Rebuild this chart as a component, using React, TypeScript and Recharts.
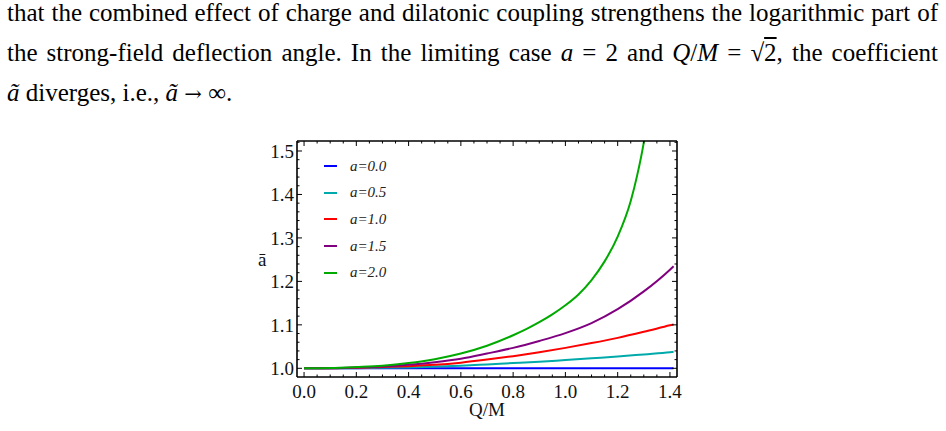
import { LineChart, Line, XAxis, YAxis, Legend } from "recharts";

// Q/M sample points for the a = 0 ... 1.5 curves
const qm = [0, 0.1, 0.2, 0.3, 0.4, 0.5, 0.6, 0.7, 0.8, 0.9, 1.0, 1.1, 1.2, 1.3, 1.4, 1.414];
const abarA00 = [1, 1, 1, 1, 1, 1, 1, 1, 1, 1, 1, 1, 1, 1, 1, 1];
const abarA05 = [1, 1.0001, 1.0004, 1.001, 1.002, 1.004, 1.006, 1.009, 1.012, 1.015, 1.019, 1.023, 1.027, 1.032, 1.037, 1.038];
const abarA10 = [1, 1.0003, 1.001, 1.003, 1.005, 1.008, 1.013, 1.02, 1.028, 1.037, 1.047, 1.058, 1.07, 1.084, 1.099, 1.101];
const abarA15 = [1, 1.0004, 1.0018, 1.004, 1.008, 1.014, 1.022, 1.034, 1.047, 1.063, 1.081, 1.104, 1.136, 1.177, 1.227, 1.235];
// a = 2 blows up towards Q/M = sqrt(2), so it is sampled more densely near the end
const qmA20 = [0, 0.1, 0.2, 0.3, 0.4, 0.5, 0.6, 0.7, 0.8, 0.85, 0.9, 0.95, 1.0, 1.05, 1.1, 1.15, 1.2, 1.25, 1.275, 1.3, 1.32];
const abarA20 = [1, 1.0007, 1.003, 1.006, 1.012, 1.021, 1.034, 1.052, 1.076, 1.09, 1.106, 1.124, 1.145, 1.17, 1.203, 1.246, 1.303, 1.385, 1.445, 1.52, 1.6];

const seriesNames = ["a=0.0", "a=0.5", "a=1.0", "a=1.5", "a=2.0"];
const seriesColors = ["#0000ff", "#00aaaa", "#ff0000", "#800080", "#00aa00"];

const xTicks = [
  0, 0.05, 0.1, 0.15, 0.2, 0.25, 0.3, 0.35, 0.4, 0.45, 0.5, 0.55, 0.6, 0.65, 0.7,
  0.75, 0.8, 0.85, 0.9, 0.95, 1.0, 1.05, 1.1, 1.15, 1.2, 1.25, 1.3, 1.35, 1.4,
];
const yTicks = [
  1.0, 1.02, 1.04, 1.06, 1.08, 1.1, 1.12, 1.14, 1.16, 1.18, 1.2, 1.22, 1.24, 1.26,
  1.28, 1.3, 1.32, 1.34, 1.36, 1.38, 1.4, 1.42, 1.44, 1.46, 1.48, 1.5, 1.52,
];

const toPoints = (qs: number[], vs: number[]) => qs.map((q, i) => ({ q, v: vs[i] }));
const series = [
  toPoints(qm, abarA00),
  toPoints(qm, abarA05),
  toPoints(qm, abarA10),
  toPoints(qm, abarA15),
  toPoints(qmA20, abarA20),
];

const serif = '"Liberation Serif", "Times New Roman", serif';
const onStep = (v: number, step: number) => Math.abs(v / step - Math.round(v / step)) < 1e-6;

// frame ticks point into the plot, Mathematica style
const BottomTick = ({ x, y, payload }: any) => {
  const major = onStep(payload.value, 0.2);
  return (
    <g>
      <line x1={x} y1={y} x2={x} y2={y - (major ? 5 : 2.5)} stroke="#000" />
      {major && (
        <text x={x} y={y + 21} textAnchor="middle" fontSize={19} fontFamily={serif} fill="#111">
          {payload.value.toFixed(1)}
        </text>
      )}
    </g>
  );
};
const TopTick = ({ x, y, payload }: any) => {
  const major = onStep(payload.value, 0.2);
  return <line x1={x} y1={y} x2={x} y2={y + (major ? 5 : 2.5)} stroke="#000" />;
};
const LeftTick = ({ x, y, payload }: any) => {
  const major = onStep(payload.value, 0.1);
  return (
    <g>
      <line x1={x} y1={y} x2={x + (major ? 5 : 2.5)} y2={y} stroke="#000" />
      {major && (
        <text x={x - 3} y={y + 6.7} textAnchor="end" fontSize={19} fontFamily={serif} fill="#111">
          {payload.value.toFixed(1)}
        </text>
      )}
    </g>
  );
};
const RightTick = ({ x, y, payload }: any) => {
  const major = onStep(payload.value, 0.1);
  return <line x1={x} y1={y} x2={x - (major ? 5 : 2.5)} y2={y} stroke="#000" />;
};

const LegendBox = ({ payload }: any) => (
  <div style={{ fontFamily: serif, fontStyle: "italic", fontSize: 15, color: "#222" }}>
    {(payload ?? []).map((p: any) => (
      <div key={p.value} style={{ height: 26.6, display: "flex", alignItems: "center" }}>
        <span style={{ display: "inline-block", width: 13, height: 2, background: p.color, marginRight: 13 }} />
        <span>{p.value}</span>
      </div>
    ))}
  </div>
);

const frame = { stroke: "#000", strokeWidth: 1.6 };
const xDomain: [number, number] = [-0.027, 1.427];
const yDomain: [number, number] = [0.98, 1.523];
const textLine = { height: 26, lineHeight: "26px", marginBottom: 14 };
const justify = { ...textLine, textAlign: "justify" as const, textAlignLast: "justify" as const };

export default function App() {
  return (
    <div style={{ position: "fixed", left: 0, top: 0, width: 946, height: 431, background: "#fff", overflow: "hidden" }}>
      <div style={{ position: "absolute", left: 7, top: 0, width: 931, fontFamily: serif, fontSize: 25, color: "#000" }}>
        <div style={justify}>
          that the combined effect of charge and dilatonic coupling strengthens the logarithmic part of
        </div>
        <div style={justify}>
          the strong-field deflection angle. In the limiting case <i>a</i>&nbsp;=&nbsp;2 and <i>Q</i>/<i>M</i>&nbsp;=&nbsp;√
          <span style={{ textDecoration: "overline" }}>2</span>, the coefficient
        </div>
        <div style={textLine}>
          <i>ã</i> diverges, i.e., <i>ã</i> <span style={{ fontFamily: '"DejaVu Serif", serif', fontSize: 21 }}>→</span> ∞.
        </div>
      </div>

      <div style={{ position: "absolute", left: 240, top: 130 }}>
        <LineChart width={460} height={300} margin={{ top: 10, right: 20, bottom: 52, left: 0 }}>
          <XAxis
            dataKey="q"
            type="number"
            domain={xDomain}
            allowDataOverflow
            ticks={xTicks}
            interval={0}
            height={1}
            tickSize={0}
            tickMargin={0}
            tickLine={false}
            axisLine={frame}
            tick={<BottomTick />}
            label={{ value: "Q/M", position: "bottom", offset: 25, fontSize: 19, fontFamily: serif, fill: "#111" }}
          />
          <XAxis
            xAxisId="top"
            orientation="top"
            dataKey="q"
            type="number"
            domain={xDomain}
            allowDataOverflow
            ticks={xTicks}
            interval={0}
            height={1}
            tickSize={0}
            tickMargin={0}
            tickLine={false}
            axisLine={frame}
            tick={<TopTick />}
          />
          <YAxis
            type="number"
            domain={yDomain}
            allowDataOverflow
            ticks={yTicks}
            interval={0}
            width={57}
            tickSize={0}
            tickMargin={0}
            tickLine={false}
            axisLine={frame}
            tick={<LeftTick />}
            label={{ value: "ā", position: "insideLeft", offset: 18, fontSize: 19, fontFamily: serif, fill: "#111" }}
          />
          <YAxis
            yAxisId="right"
            orientation="right"
            type="number"
            domain={yDomain}
            allowDataOverflow
            ticks={yTicks}
            interval={0}
            width={3}
            tickSize={0}
            tickMargin={0}
            tickLine={false}
            axisLine={frame}
            tick={<RightTick />}
          />
          <Legend
            layout="vertical"
            align="center"
            verticalAlign="middle"
            wrapperStyle={{ left: 84, top: 23, width: 120, height: "auto" }}
            content={<LegendBox />}
          />
          {series.map((pts, i) => (
            <Line
              key={seriesNames[i]}
              name={seriesNames[i]}
              data={pts}
              dataKey="v"
              type="monotone"
              stroke={seriesColors[i]}
              strokeWidth={2}
              dot={false}
              activeDot={false}
              isAnimationActive={false}
            />
          ))}
        </LineChart>
      </div>
    </div>
  );
}
